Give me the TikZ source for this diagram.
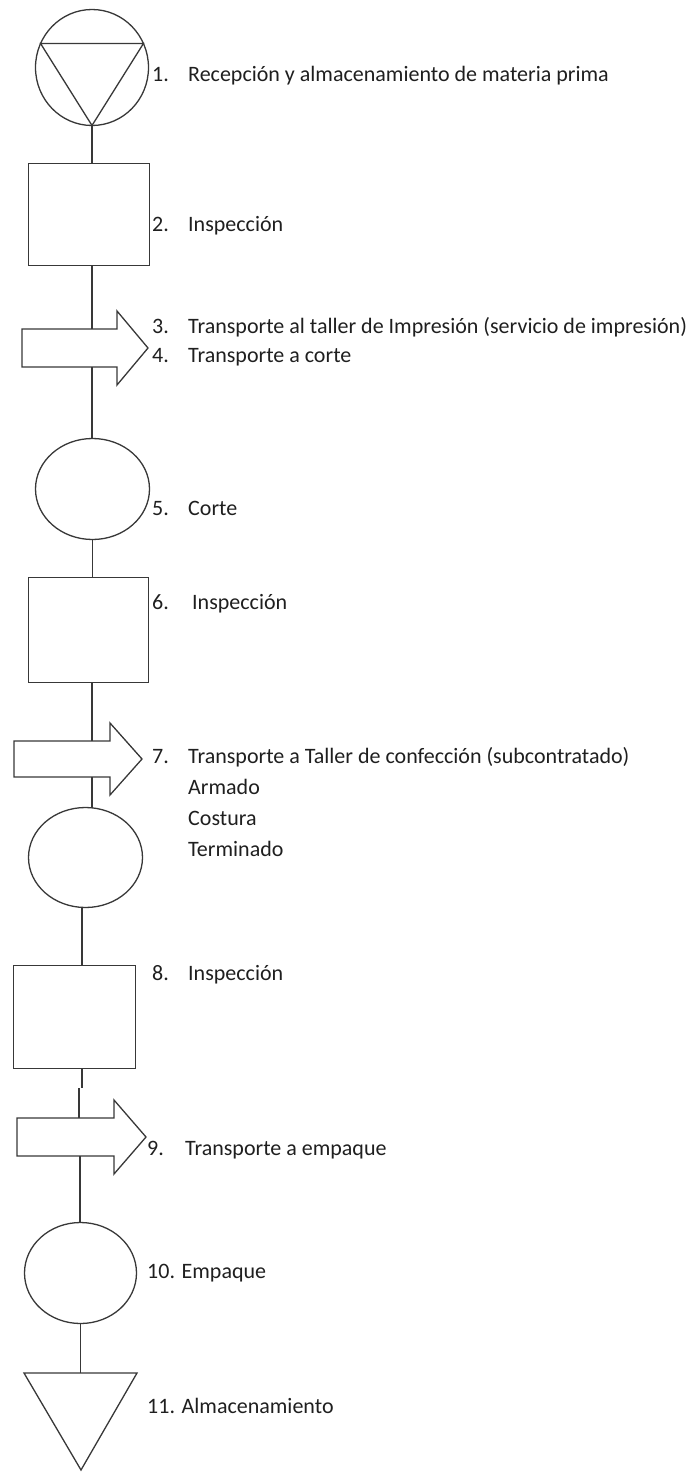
\documentclass[tikz,border=0pt]{standalone}
\usepackage{fontspec}
\setmainfont{Carlito}
\usetikzlibrary{shapes.geometric}
\begin{document}
\begin{tikzpicture}[x=1pt,y=-1pt,
  shp/.style={draw=black!78,line width=1.3pt,fill=white,inner sep=0pt,outer sep=0pt},
  oval/.style={shp,ellipse},
  box/.style={shp,rectangle},
  conn/.style={draw=black!78,line width=1.3pt},
  txt/.style={anchor=base west,inner sep=0pt,font=\fontsize{22}{26}\selectfont,text=black!88}]
\path[use as bounding box] (0,0) rectangle (698,1474);

% 1. reception and storage
\node[oval,minimum width=113pt,minimum height=116pt] (n1) at (92,67.5) {};
\draw[conn,line join=miter] (n1.155) -- (n1.25) -- (n1.south) -- cycle;
% 2. inspection
\node[box,minimum width=121pt,minimum height=102pt] (n2) at (89,214.5) {};
% 3-4 transport
\coordinate (a3t) at (92,329);
\coordinate (a3b) at (92,367);
\draw[shp] (22,329) -- (117,329) -- (117,311) -- (148,348) -- (117,385) -- (117,367) -- (22,367) -- cycle;
% 5. cut
\node[oval,minimum width=114pt,minimum height=101pt] (n5) at (92.5,489) {};
% 6. inspection
\node[box,minimum width=120pt,minimum height=105pt] (n6) at (88.5,630) {};
% 7. transport
\coordinate (a7t) at (92,741);
\coordinate (a7b) at (92,777);
\draw[shp] (14,741) -- (110,741) -- (110,723) -- (142,759) -- (110,795) -- (110,777) -- (14,777) -- cycle;
% 7. operations
\node[oval,minimum width=114pt,minimum height=100pt] (n7) at (85.5,857.5) {};
% 8. inspection
\node[box,minimum width=122pt,minimum height=103pt] (n8) at (74.5,1017) {};
% 9. transport
\coordinate (a9t) at (79,1118);
\coordinate (a9b) at (80,1156);
\draw[shp] (17,1118) -- (114,1118) -- (114,1100) -- (146,1137) -- (114,1174) -- (114,1156) -- (17,1156) -- cycle;
% 10. packing
\node[oval,minimum width=112pt,minimum height=101pt] (n10) at (80.5,1273) {};
% 11. storage
\coordinate (n11) at (80.5,1373);
\draw[shp,line join=miter] (24,1373) -- (137,1373) -- (81,1470) -- cycle;

% connectors
\coordinate (c78) at (82,900);
\coordinate (j1) at (82,1088);
\coordinate (j2) at (79,1088);
\draw[conn] (n1.south) -- (n1.south |- n2.north);
\draw[conn] (a3t |- n2.south) -- (a3t);
\draw[conn] (a3b) -- (a3b |- n5.north);
\draw[conn] (n5.south) -- (n5.south |- n6.north);
\draw[conn] (a7t |- n6.south) -- (a7t);
\draw[conn] (a7b) -- (a7b |- n7.north);
\draw[conn] (c78 |- n7.south) -- (c78 |- n8.north);
\draw[conn] (j1 |- n8.south) -- (j1);
\draw[conn] (j2) -- (j2 |- a9t);
\draw[conn] (a9b) -- (a9b |- n10.north);
\draw[conn] (n10.south) -- (n10.south |- n11);

% labels
\node[txt] (t1n) at (152,82) {1.};
\node[txt] (t1) at (188,82) {Recepción y almacenamiento de materia prima};
\node[txt] (t2n) at (152,231) {2.};
\node[txt] (t2) at (188,231) {Inspección};
\node[txt] (t3n) at (152,333) {3.};
\node[txt] (t3) at (188,333) {Transporte al taller de Impresión (servicio de impresión)};
\node[txt] (t4n) at (152,362) {4.};
\node[txt] (t4) at (188,362) {Transporte a corte};
\node[txt] (t5n) at (152,515) {5.};
\node[txt] (t5) at (188,515) {Corte};
\node[txt] (t6n) at (152,609) {6.};
\node[txt] (t6) at (192,609) {Inspección};
\node[txt] (t7n) at (152,763) {7.};
\node[txt] (t7) at (188,763) {Transporte a Taller de confección (subcontratado)};
\node[txt] (t7a) at (188,794) {Armado};
\node[txt] (t7b) at (188,825) {Costura};
\node[txt] (t7c) at (188,856) {Terminado};
\node[txt] (t8n) at (152,980) {8.};
\node[txt] (t8) at (188,980) {Inspección};
\node[txt] (t9n) at (147,1155) {9.};
\node[txt] (t9) at (185,1155) {Transporte a empaque};
\node[txt] (t10) at (147,1278) {10. Empaque};
\node[txt] (t11) at (147,1413) {11. Almacenamiento};
\end{tikzpicture}
\end{document}
